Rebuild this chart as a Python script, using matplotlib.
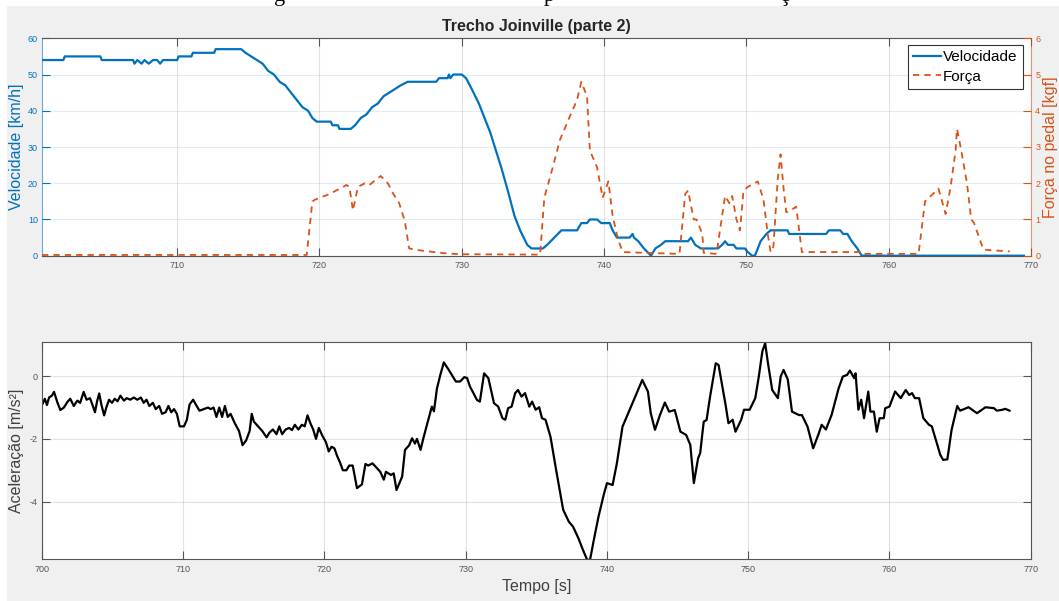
import matplotlib
matplotlib.use("Agg")
import matplotlib.pyplot as plt
from matplotlib.patches import Rectangle
from matplotlib.lines import Line2D

plt.rcParams['font.family'] = ['Liberation Sans', 'DejaVu Sans']
plt.rcParams['axes.unicode_minus'] = False

# ---------------- data ----------------
title = "Trecho Joinville (parte 2)"
speed_t = [700.5, 702.0, 702.1, 704.6, 704.7, 706.9, 707.0, 707.2, 707.5, 707.7, 708.0, 708.3,
           708.6, 708.8, 709.0, 710.0, 710.1, 711.0, 711.1, 712.6, 712.7, 714.5, 714.8, 715.2,
           715.6, 716.0, 716.4, 716.8, 717.2, 717.6, 718.0, 718.4, 718.8, 719.2, 719.5, 719.8,
           720.8, 720.9, 721.3, 721.4, 722.2, 722.5, 722.9, 723.3, 723.7, 724.1, 724.5, 724.9,
           725.3, 725.7, 726.2, 728.2, 728.4, 729.0, 729.1, 729.2, 729.4, 730.0, 730.3, 730.7,
           731.2, 731.6, 732.0, 732.4, 732.8, 733.3, 733.7, 734.1, 734.6, 734.9, 735.7, 736.0,
           736.5, 737.0, 738.1, 738.4, 738.8, 739.0, 739.5, 739.8, 740.4, 740.6, 740.9, 741.8,
           742.0, 742.1, 742.4, 742.8, 743.3, 743.6, 744.0, 744.3, 745.9, 746.1, 746.4, 746.8,
           748.0, 748.3, 748.5, 748.7, 749.1, 749.3, 749.9, 750.1, 750.4, 750.6, 751.0, 751.4,
           751.7, 752.9, 753.0, 755.6, 755.8, 756.6, 756.8, 757.1, 757.4, 757.8, 758.1, 769.5]
speed_v = [54, 54, 55, 55, 54, 54, 53, 54, 53, 54, 53, 54,
           54, 53, 54, 54, 55, 55, 56, 56, 57, 57, 56, 55,
           54, 53, 51, 50, 48, 47, 45, 43, 41, 40, 38, 37,
           37, 36, 36, 35, 35, 36, 38, 39, 41, 42, 44, 45,
           46, 47, 48, 48, 49, 49, 50, 49, 50, 50, 49, 46,
           42, 38, 34, 29, 24, 17, 11, 7, 3, 2, 2, 3,
           5, 7, 7, 9, 9, 10, 10, 9, 9, 7, 5, 5,
           6, 5, 4, 2, 0, 2, 3, 4, 4, 5, 3, 2,
           2, 3, 4, 3, 3, 2, 2, 1, 0, 0, 4, 6,
           7, 7, 6, 6, 7, 7, 6, 6, 4, 2, 0, 0]

force_t = [700.5, 719.1, 719.5, 719.7, 720.7, 721.9, 722.1, 722.35, 722.7, 723.2, 723.5, 724.3,
           724.8, 725.2, 725.6, 726.0, 726.3, 727.0, 728.7, 729.9, 735.5, 735.8, 736.4, 736.9,
           737.6, 738.1, 738.4, 738.8, 739.0, 739.5, 739.9, 740.3, 740.6, 740.95, 741.3, 745.3,
           745.7, 745.9, 746.3, 746.5, 746.9, 747.0, 747.9, 748.5, 748.8, 749.0, 749.3, 749.55,
           749.8, 750.1, 750.8, 751.2, 751.5, 751.7, 751.9, 752.2, 752.4, 752.6, 752.8, 753.1,
           753.5, 753.9, 758.2, 758.3, 762.1, 762.55, 763.1, 763.5, 764.0, 764.35, 764.7, 764.8,
           765.1, 765.5, 765.8, 766.0, 766.65, 767.2, 768.5]
force_f = [0.02, 0.02, 1.5, 1.55, 1.7, 1.95, 1.9, 1.25, 1.9, 2.0, 1.95, 2.2,
           2.0, 1.7, 1.45, 0.95, 0.2, 0.15, 0.07, 0.04, 0.03, 1.6, 2.45, 3.2,
           3.85, 4.3, 4.8, 4.4, 2.9, 2.45, 1.6, 2.05, 1.1, 0.5, 0.1, 0.05,
           1.7, 1.8, 1.0, 1.0, 0.6, 0.08, 0.05, 1.65, 1.45, 1.65, 1.0, 0.7,
           1.8, 1.9, 2.05, 1.55, 0.6, 0.1, 0.25, 2.1, 2.8, 1.9, 1.2, 1.25,
           1.35, 0.1, 0.1, 0.05, 0.05, 1.5, 1.7, 1.85, 1.15, 1.9, 2.9, 3.5,
           2.9, 2.0, 1.0, 0.9, 0.17, 0.15, 0.12]

acc_t = [700.0, 700.2, 700.35, 700.5, 700.7, 700.85, 701.1, 701.3, 701.55, 701.8, 702.0, 702.25,
         702.5, 702.7, 702.95, 703.15, 703.4, 703.6, 703.75, 703.9, 704.05, 704.2, 704.4, 704.55,
         704.75, 704.95, 705.15, 705.35, 705.55, 705.8, 706.0, 706.25, 706.5, 706.75, 707.0, 707.2,
         707.4, 707.6, 707.85, 708.05, 708.3, 708.5, 708.75, 708.95, 709.15, 709.35, 709.55, 709.75,
         710.05, 710.25, 710.45, 710.7, 710.95, 711.15, 711.45, 711.75, 711.95, 712.15, 712.35, 712.55,
         712.75, 712.95, 713.15, 713.35, 713.65, 713.95, 714.2, 714.45, 714.7, 714.85, 715.0, 715.3,
         715.6, 715.9, 716.1, 716.35, 716.6, 716.8, 717.0, 717.25, 717.5, 717.7, 717.9, 718.15,
         718.4, 718.6, 718.8, 719.0, 719.2, 719.4, 719.6, 719.85, 720.1, 720.3, 720.5, 720.7,
         720.9, 721.1, 721.3, 721.55, 721.75, 722.0, 722.3, 722.65, 722.9, 723.1, 723.4, 723.65,
         723.95, 724.2, 724.35, 724.7, 724.9, 725.1, 725.5, 725.7, 726.0, 726.2, 726.4, 726.55,
         726.8, 727.0, 727.4, 727.6, 727.75, 727.96, 728.2, 728.45, 728.8, 729.3, 729.6, 729.9,
         730.1, 730.3, 730.8, 731.0, 731.3, 731.6, 732.0, 732.3, 732.6, 732.8, 733.0, 733.25,
         733.5, 733.7, 733.95, 734.2, 734.5, 734.7, 734.95, 735.2, 735.4, 735.65, 736.0, 736.4,
         736.9, 737.3, 737.6, 737.98, 738.3, 738.6, 738.8, 739.07, 739.4, 739.8, 740.0, 740.4,
         740.7, 741.1, 741.7, 742.15, 742.5, 742.9, 743.1, 743.4, 743.75, 744.1, 744.4, 744.8,
         745.2, 745.6, 745.9, 746.15, 746.45, 746.6, 746.85, 747.05, 747.3, 747.7, 747.9, 748.4,
         748.6, 748.9, 749.1, 749.5, 749.7, 750.1, 750.5, 750.75, 751.0, 751.2, 751.4, 751.7,
         752.1, 752.3, 752.5, 752.8, 753.1, 753.6, 753.8, 754.2, 754.6, 755.0, 755.2, 755.5,
         755.9, 756.4, 756.7, 757.0, 757.2, 757.5, 757.6, 757.8, 758.0, 758.2, 758.5, 758.65,
         758.9, 759.1, 759.3, 759.6, 759.7, 760.0, 760.4, 760.8, 761.15, 761.4, 761.6, 761.8,
         762.1, 762.4, 762.8, 763.0, 763.6, 763.8, 764.1, 764.4, 764.8, 765.0, 765.6, 766.2,
         766.8, 767.4, 767.6, 768.0, 768.2, 768.5]
acc_a = [-0.92, -0.72, -0.92, -0.68, -0.62, -0.5, -0.85, -1.08, -1.0, -0.82, -0.72, -0.95,
         -0.78, -0.85, -0.5, -0.75, -0.7, -0.95, -1.15, -0.8, -0.55, -0.9, -1.25, -1.0,
         -0.75, -0.85, -0.72, -0.8, -0.62, -0.78, -0.7, -0.75, -0.68, -0.75, -0.68, -0.85,
         -0.75, -0.95, -0.85, -1.05, -0.95, -1.2, -1.15, -0.95, -1.15, -1.05, -1.2, -1.6,
         -1.6, -1.4, -0.9, -0.75, -0.95, -1.1, -1.05, -1.0, -1.05, -1.0, -1.3, -1.0,
         -1.3, -0.95, -1.3, -1.2, -1.5, -1.75, -2.2, -2.05, -1.75, -1.2, -1.45, -1.6,
         -1.75, -1.95, -1.8, -1.7, -1.85, -1.6, -1.85, -1.7, -1.65, -1.72, -1.55, -1.7,
         -1.55, -1.6, -1.25, -1.5, -1.7, -2.0, -1.65, -1.9, -2.1, -2.4, -2.25, -2.3,
         -2.55, -2.75, -3.0, -3.0, -2.85, -2.85, -3.57, -3.45, -2.8, -2.85, -2.78, -2.9,
         -3.05, -3.3, -3.05, -3.15, -3.1, -3.63, -3.2, -2.35, -2.2, -1.98, -2.15, -2.0,
         -2.35, -1.98, -1.3, -0.97, -1.12, -0.4, 0.04, 0.44, 0.2, -0.17, -0.17, -0.03,
         -0.06, -0.33, -0.76, -0.81, 0.09, -0.06, -0.86, -0.97, -1.34, -1.39, -1.02, -0.97,
         -0.54, -0.44, -0.65, -0.54, -0.97, -0.81, -1.07, -0.99, -1.34, -1.39, -1.93, -2.99,
         -4.26, -4.64, -4.8, -5.17, -5.54, -5.86, -5.86, -5.22, -4.48, -3.73, -3.41, -3.47,
         -2.78, -1.61, -0.97, -0.49, -0.12, -0.49, -1.18, -1.71, -1.24, -0.84, -1.13, -1.08,
         -1.77, -1.87, -2.19, -3.41, -2.62, -2.45, -1.45, -1.4, -0.65, 0.41, 0.36, -0.92,
         -1.5, -1.39, -1.77, -1.39, -1.07, -1.07, -0.7, -0.01, 0.79, 1.05, 0.41, -0.44,
         -0.7, -0.01, 0.2, -0.1, -1.13, -1.24, -1.24, -1.61, -2.3, -1.82, -1.55, -1.7,
         -1.24, -0.39, -0.01, 0.04, 0.18, -0.06, 0.09, -1.07, -0.75, -1.34, -0.49, -1.13,
         -1.13, -1.77, -1.34, -1.34, -1.02, -0.97, -0.49, -0.7, -0.44, -0.6, -0.54, -0.7,
         -0.7, -1.34, -1.55, -1.6, -2.51, -2.67, -2.65, -1.71, -0.95, -1.1, -0.99, -1.18,
         -0.99, -1.02, -1.1, -1.07, -1.04, -1.1]

top_xticks = [710, 720, 730, 740, 750, 760, 770]
bot_xticks = [700, 710, 720, 730, 740, 750, 760, 770]
speed_ticks = [0, 10, 20, 30, 40, 50, 60]
force_ticks = [0, 1, 2, 3, 4, 5, 6]
acc_ticks = [-4, -2, 0]

# ---------------- style ----------------
W, H = 1059, 601
BLUE = '#0072BD'
ORANGE = '#D95319'
AXC = '#404040'
TICKC = '#555555'
fig = plt.figure(figsize=(W / 100, H / 100), dpi=100, facecolor='white')
fig.patches.append(Rectangle((7 / W, 0), 1, (H - 6) / H, transform=fig.transFigure,
                             facecolor='#f0f0f0', edgecolor='none', zorder=-10))

# clipped caption fragments at the very top
for ch, xp in [("g", 280), ("p", 549), ("ç", 784)]:
    fig.text(xp / W, 1 - 0.5 / H, ch, family='Liberation Serif', fontsize=16,
             ha='center', va='baseline', color='black')

def fig_rect(left, top, right, bottom):
    return [left / W, 1 - bottom / H, (right - left) / W, (bottom - top) / H]

ax1 = fig.add_axes(fig_rect(42, 38.3, 1031, 255.7))
ax2 = ax1.twinx()
ax3 = fig.add_axes(fig_rect(42, 341.7, 1030.7, 559))

tick_len = 6.0
# ---- top plot
ax1.plot(speed_t, speed_v, color=BLUE, lw=1.6, label='Velocidade', zorder=3)
ax2.plot(force_t, force_f, color=ORANGE, lw=1.3, ls=(0, (3.5, 2.8)), label='Força', zorder=3)
ax1.set_xlim(700.5, 770)
ax1.set_ylim(0, 60)
ax2.set_ylim(0, 6)
ax1.set_xticks(top_xticks)
ax1.set_yticks(speed_ticks)
ax2.set_yticks(force_ticks)
ax1.grid(True, axis='x', color='#262626', alpha=0.13, lw=0.8)
ax1.grid(True, axis='y', color=BLUE, alpha=0.12, lw=0.8)
ax1.set_axisbelow(True)

ax1.tick_params(axis='x', direction='in', length=tick_len, width=0.8, color=TICKC,
                labelsize=6.5, labelcolor=TICKC, top=True, pad=4)
ax1.tick_params(axis='y', direction='in', length=tick_len, width=0.8, color=BLUE,
                labelsize=6.5, labelcolor=BLUE, pad=3)
ax2.tick_params(axis='y', direction='in', length=tick_len, width=0.8, color=ORANGE,
                labelsize=6.5, labelcolor=ORANGE, pad=3)
for sp in ['top', 'bottom']:
    ax1.spines[sp].set_color(TICKC)
    ax1.spines[sp].set_linewidth(0.8)
    ax2.spines[sp].set_visible(False)
ax1.spines['left'].set_color(BLUE)
ax1.spines['left'].set_alpha(0.6)
ax1.spines['right'].set_visible(False)
ax2.spines['left'].set_visible(False)
ax2.spines['right'].set_color(ORANGE)
ax2.spines['right'].set_alpha(0.6)

ax1.set_ylabel('Velocidade [km/h]', color=BLUE, fontsize=11.5, va='center')
ax1.yaxis.set_label_coords(-0.0256, 0.5)
ax2.set_ylabel('Força no pedal [kgf]', color=ORANGE, fontsize=11.5, va='center')
ax2.yaxis.set_label_coords(1.0195, 0.5)
ax1.set_title(title, fontsize=11.5, fontweight='bold', color='#262626', pad=5)

handles = [Line2D([], [], color=BLUE, lw=1.6),
           Line2D([], [], color=ORANGE, lw=1.3, ls=(0, (3.5, 2.8)))]
leg = ax2.legend(handles, ['Velocidade', 'Força'], loc='upper right',
                 bbox_to_anchor=(0.992, 0.969), borderaxespad=0, fontsize=11,
                 fancybox=False, framealpha=1, edgecolor='#333333',
                 handlelength=1.8, handletextpad=0.15, borderpad=0.35, labelspacing=0.35)
leg.get_frame().set_linewidth(0.8)

# ---- bottom plot
ax3.plot(acc_t, acc_a, color='black', lw=1.6)
ax3.set_xlim(700, 770)
ax3.set_ylim(-5.83, 1.1)
ax3.set_xticks(bot_xticks)
ax3.set_yticks(acc_ticks)
ax3.grid(True, color='#262626', alpha=0.13, lw=0.8)
ax3.set_axisbelow(True)
ax3.tick_params(direction='in', length=tick_len, width=0.8, color=TICKC, labelsize=6.5,
                labelcolor=TICKC, top=True, right=True, pad=4)
ax3.tick_params(axis='y', pad=3)
for sp in ax3.spines.values():
    sp.set_color(TICKC)
    sp.set_linewidth(0.8)
ax3.set_ylabel('Aceleração [m/s²]', color=AXC, fontsize=11.5, va='center')
ax3.yaxis.set_label_coords(-0.0256, 0.5)
ax3.set_xlabel('Tempo [s]', color=AXC, fontsize=11.5)
ax3.xaxis.set_label_coords(0.5, -0.127)
ax3.xaxis.label.set_va('center')

fig.savefig('out.png', dpi=100, facecolor=fig.get_facecolor())
